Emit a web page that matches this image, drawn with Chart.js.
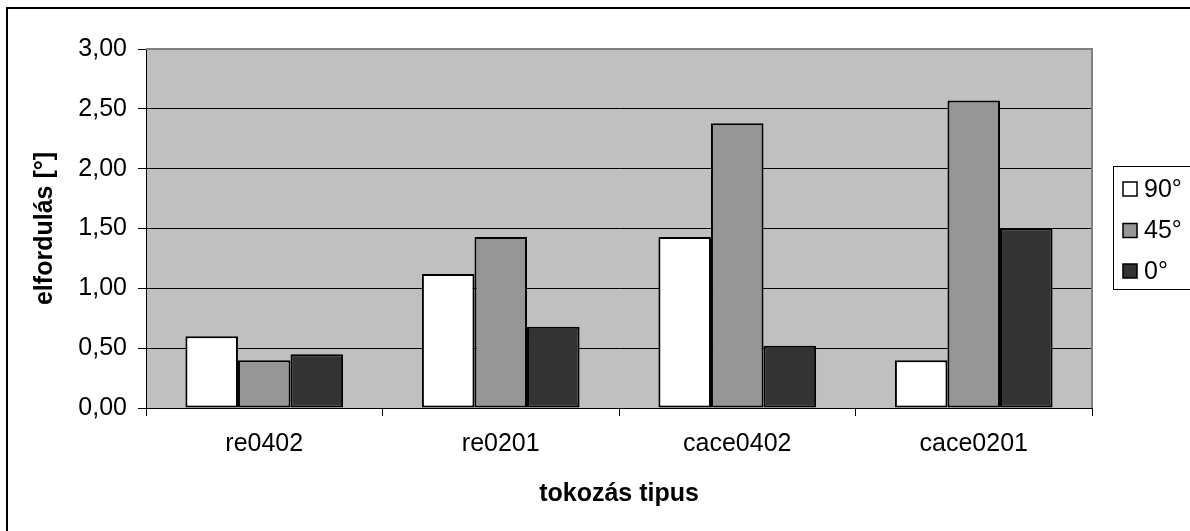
<!DOCTYPE html>
<html>
<head>
<meta charset="utf-8">
<script src="https://cdn.jsdelivr.net/npm/chart.js@4/dist/chart.umd.min.js"></script>
<style>
  html, body { margin: 0; padding: 0; background: #fff; }
  #wrap { width: 1190px; height: 531px; position: relative; }
</style>
</head>
<body>
<div id="wrap"><canvas id="c"></canvas></div>
<script>
const categories = ['re0402', 're0201', 'cace0402', 'cace0201'];
const seriesNames = ['90°', '45°', '0°'];
const values90 = [0.60, 1.12, 1.43, 0.40];
const values45 = [0.40, 1.43, 2.38, 2.57];
const values0 = [0.45, 0.68, 0.52, 1.50];
const yTickLabels = ['0,00', '0,50', '1,00', '1,50', '2,00', '2,50', '3,00'];
const xTitle = 'tokozás tipus';
const yTitle = 'elfordulás [°]';

const FONT = "'Liberation Sans', Arial, sans-serif";
const FS = 25;
const colors = ['#FFFFFF', '#969696', '#333333'];

const bgPlugin = {
  id: 'bg',
  beforeDraw(chart) {
    const { ctx, chartArea: a } = chart;
    ctx.save();
    ctx.fillStyle = '#FFFFFF';
    ctx.fillRect(0, 0, chart.width, chart.height);
    ctx.fillStyle = '#C0C0C0';
    ctx.fillRect(a.left, a.top, a.right - a.left, a.bottom - a.top);
    ctx.restore();
  },
  afterDatasetsDraw(chart) {
    const { ctx, chartArea: a } = chart;
    ctx.save();
    ctx.strokeStyle = '#808080';
    ctx.lineWidth = 2;
    ctx.beginPath();
    ctx.moveTo(a.left, a.top);
    ctx.lineTo(a.right, a.top);
    ctx.lineTo(a.right, a.bottom);
    ctx.stroke();
    ctx.restore();
  },
  afterDraw(chart) {
    const { ctx } = chart;
    ctx.save();
    ctx.strokeStyle = '#000';
    ctx.lineWidth = 2;
    ctx.beginPath();
    ctx.moveTo(7, chart.height + 2);
    ctx.lineTo(7, 8);
    ctx.lineTo(chart.width + 2, 8);
    ctx.stroke();
    const boxL = 1113.5, boxT = 166.5, boxB = 289.5;
    ctx.fillStyle = '#fff';
    ctx.fillRect(boxL, boxT, chart.width - boxL + 5, boxB - boxT);
    ctx.strokeStyle = '#000';
    ctx.lineWidth = 1;
    ctx.strokeRect(boxL, boxT, chart.width - boxL + 5, boxB - boxT);
    const ys = [189, 230.5, 271];
    ctx.font = FS + 'px ' + FONT;
    ctx.textBaseline = 'middle';
    ctx.textAlign = 'left';
    chart.data.datasets.forEach((ds, i) => {
      ctx.fillStyle = ds.backgroundColor;
      ctx.fillRect(1123, ys[i] - 7, 14, 14);
      ctx.strokeStyle = '#000';
      ctx.lineWidth = 1.5;
      ctx.strokeRect(1123, ys[i] - 7, 14, 14);
      ctx.fillStyle = '#000';
      ctx.fillText(ds.label, 1144, ys[i] + 1);
    });
    ctx.restore();
  }
};

new Chart(document.getElementById('c'), {
  type: 'bar',
  data: {
    labels: categories,
    datasets: [
      { label: seriesNames[0], data: values90, backgroundColor: colors[0] },
      { label: seriesNames[1], data: values45, backgroundColor: colors[1] },
      { label: seriesNames[2], data: values0, backgroundColor: colors[2] }
    ].map(d => Object.assign(d, {
      borderColor: '#000', borderWidth: 2, borderSkipped: false,
      categoryPercentage: 3 / 4.5, barPercentage: 1
    }))
  },
  options: {
    responsive: true,
    maintainAspectRatio: false,
    devicePixelRatio: 1,
    animation: false,
    layout: { padding: { left: 30, top: 49, right: 98, bottom: 22 } },
    plugins: { legend: { display: false }, tooltip: { enabled: false } },
    scales: {
      x: {
        grid: { offset: true, drawOnChartArea: false, drawTicks: true, tickLength: 8, color: '#000', lineWidth: 1 },
        border: { color: '#000', width: 1 },
        ticks: { color: '#000', font: { family: FONT, size: FS }, padding: 13, maxRotation: 0 },
        title: { display: true, text: xTitle, color: '#000', font: { family: FONT, size: FS, weight: 'bold' }, padding: 0 },
        afterFit(scale) { scale.height = 531 - 408 - 22; }
      },
      y: {
        min: 0, max: 3,
        ticks: {
          stepSize: 0.5, color: '#000', font: { family: FONT, size: FS }, padding: 11,
          callback: (v, i) => yTickLabels[i]
        },
        grid: {
          color: (c) => (c.tick && c.tick.value === 3 ? '#808080' : '#000'),
          tickColor: '#000', lineWidth: 1, tickLength: 8
        },
        border: { color: '#000', width: 1 },
        title: { display: true, text: yTitle, color: '#000', font: { family: FONT, size: FS, weight: 'bold' }, padding: 0 },
        afterFit(scale) { scale.width = 146 - 30; }
      }
    }
  },
  plugins: [bgPlugin]
});
</script>
</body>
</html>
